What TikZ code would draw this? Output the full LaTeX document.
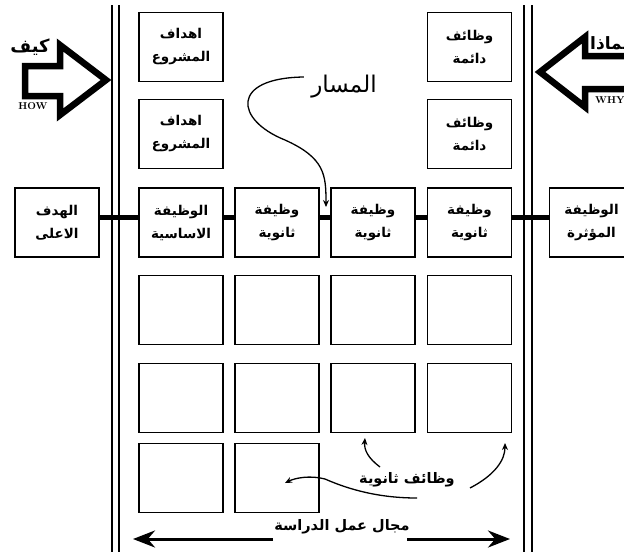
\documentclass[tikz,border=0pt]{standalone}
\usepackage{fontspec}
\usetikzlibrary{arrows.meta}
\newfontfamily\arabicfont[Script=Arabic]{DejaVu Sans}
\TeXXeTstate=1
\newcommand{\ar}[1]{{\arabicfont\beginR #1\endR}}
\tikzset{
  fbox/.style={draw, line width=1.4pt, minimum width=84pt, minimum height=69pt,
    inner sep=0pt, align=center, font=\fontsize{13.5}{23}\selectfont\bfseries},
  link/.style={line width=4.5pt},
  wall/.style={line width=1.8pt},
  bigarrow/.style={line width=6.5pt, line join=miter, miter limit=10, fill=white},
  pointer/.style={-{Stealth[length=7pt, width=6pt]}, line width=1.3pt},
  span/.style={-{Stealth[length=22pt, width=17pt]}, line width=3pt},
  lbl/.style={font=\fontsize{14.5}{17}\selectfont\bfseries, inner sep=1pt},
  en/.style={font=\fontsize{10}{11}\selectfont\bfseries, inner sep=1pt}
}

\begin{document}
\begin{tikzpicture}[x=1pt, y=-1pt]
\useasboundingbox (0,0) rectangle (624,555);
\clip (0,0) rectangle (624,555);
\fill[white] (0,0) rectangle (624,555);

% walls of the study field
\draw[wall] (112,5) -- (112,552);
\draw[wall] (119,5) -- (119,552);
\draw[wall] (524,5) -- (524,552);
\draw[wall] (532,5) -- (532,552);

% how / why arrows
\draw[bigarrow] (25,66) -- (60,66) -- (60,45) -- (106,80) -- (60,115) -- (60,96) -- (25,96) -- cycle;
\node[lbl, font=\fontsize{18}{20}\selectfont\bfseries] (how) at (30,47) {\ar{كيف}};
\node[en] (howen) at (33,106) {HOW};
\draw[bigarrow] (660,56) -- (585,56) -- (585,37) -- (540,72) -- (585,107) -- (585,89) -- (660,89) -- cycle;
\node[lbl, anchor=west, font=\fontsize{17}{19}\selectfont\bfseries] (why) at (589,43) {\ar{لماذا}};
\node[en, anchor=west] (whyen) at (594,100) {WHY};

% top rows
\node[fbox] (p1) at (181,47) {\ar{اهداف}\\ \ar{المشروع}};
\node[fbox] (p2) at (181,134) {\ar{اهداف}\\ \ar{المشروع}};
\node[fbox] (d1) at (469.5,47) {\ar{وظائف}\\ \ar{دائمة}};
\node[fbox] (d2) at (469.5,134) {\ar{وظائف}\\ \ar{دائمة}};

% main row
\node[fbox] (goal) at (57,222.5) {\ar{الهدف}\\ \ar{الاعلى}};
\node[fbox] (basic) at (181,222.5) {\ar{الوظيفة}\\ \ar{الاساسية}};
\node[fbox] (s1) at (277,222.5) {\ar{وظيفة}\\ \ar{ثانوية}};
\node[fbox] (s2) at (373,222.5) {\ar{وظيفة}\\ \ar{ثانوية}};
\node[fbox] (s3) at (469.5,222.5) {\ar{وظيفة}\\ \ar{ثانوية}};
\node[fbox] (eff) at (591.5,222.5) {\ar{الوظيفة}\\ \ar{المؤثرة}};

\draw[link] ([yshift=5pt]goal.east) -- ([yshift=5pt]basic.west);
\draw[link] ([yshift=5pt]basic.east) -- ([yshift=5pt]s1.west);
\draw[link] ([yshift=5pt]s1.east) -- ([yshift=5pt]s2.west);
\draw[link] ([yshift=5pt]s2.east) -- ([yshift=5pt]s3.west);
\draw[link] ([yshift=5pt]s3.east) -- ([yshift=5pt]eff.west);

% empty boxes
\foreach \y/\r in {310/a, 398/b} {
  \foreach \x/\c in {181/1, 277/2, 373/3, 469.5/4}
    \node[fbox] (e\r\c) at (\x,\y) {};
}
\node[fbox] (ec1) at (181,478) {};
\node[fbox] (ec2) at (277,478) {};

% path
\node[font=\fontsize{23}{26}\selectfont] (route) at (344,87) {\ar{المسار}};
\coordinate (routeend) at (326,207);
\draw[pointer] (route.west) ++(-4,-10) .. controls (230,78) and (235,120) .. (285,140)
  .. controls (325,158) and (326,175) .. (routeend);

% secondary functions
\node[lbl] (sec) at (407,480) {\ar{وظائف ثانوية}};
\coordinate (seca) at (365,438);
\coordinate (secb) at (505,443);
\coordinate (secc) at (285,483);
\draw[pointer] (380,467) .. controls (368,458) and (364,450) .. (seca);
\draw[pointer] (470,488) .. controls (495,475) and (505,460) .. (secb);
\draw[pointer] (417,498) .. controls (380,498) and (350,490) .. (325,479)
  .. controls (310,475) and (295,478) .. (secc);

% field of study
\node[lbl] (field) at (342,527) {\ar{مجال عمل الدراسة}};
\coordinate (fieldl) at (133,539);
\coordinate (fieldr) at (510,539);
\draw[span] (273,539) -- (fieldl);
\draw[span] (407,539) -- (fieldr);

\end{tikzpicture}
\end{document}
